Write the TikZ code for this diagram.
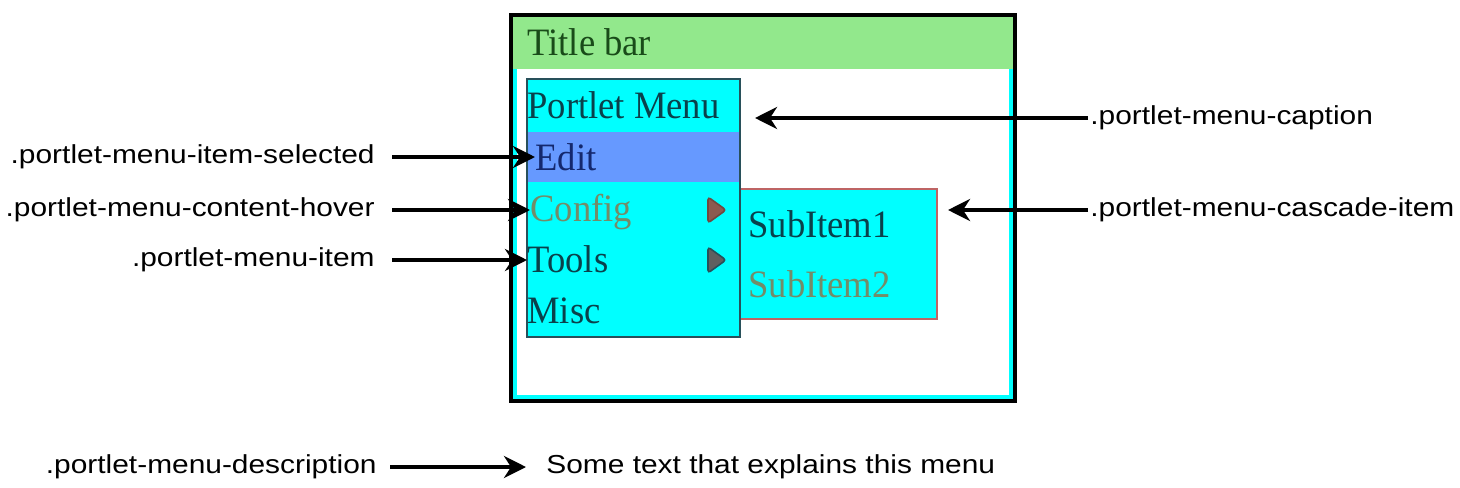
\documentclass[tikz,border=0pt]{standalone}
\usepackage{fontspec}
\usepackage{graphicx}
\setmainfont{Liberation Serif}
\newfontfamily\labfont{Liberation Sans}
\usetikzlibrary{arrows.meta}
\definecolor{titlegreen}{RGB}{146,232,140}
\definecolor{menucyan}{RGB}{0,255,255}
\definecolor{editblue}{RGB}{102,153,255}
\definecolor{menuborder}{RGB}{40,80,90}
\definecolor{subborder}{RGB}{190,100,100}
\definecolor{titletext}{RGB}{25,75,25}
\definecolor{tealtext}{RGB}{10,65,75}
\definecolor{edittext}{RGB}{20,40,110}
\definecolor{hovertext}{RGB}{115,140,105}
\definecolor{tribrown}{RGB}{140,90,80}
\definecolor{trigray}{RGB}{95,95,95}
\newcommand\hstretch[1]{\scalebox{1.15}[1]{#1}}
\newcommand\vstretch[1]{\scalebox{1}[1.06]{#1}}
\begin{document}
\begin{tikzpicture}[x=0.5pt,y=-0.5pt,
  lab/.style={inner sep=0pt, font=\labfont\fontsize{13pt}{15pt}\selectfont},
  mtext/.style={inner sep=0pt, font=\fontsize{18.3pt}{21pt}\selectfont, anchor=base west},
  arr/.style={line width=2.1pt, -{Stealth[length=11pt,width=11pt,inset=3.5pt]}},
  tri/.style={rounded corners=1.5pt, line width=0.8pt}]
\useasboundingbox (0,0) rectangle (1460,487);
\fill[white] (0,0) rectangle (1460,487);
% outer portlet frame
\fill[menucyan] (513,17) rectangle (1013,399);
\fill[white] (517,69) rectangle (1009,395);
\fill[titlegreen] (513,17) rectangle (1013,69);
\draw[line width=2pt] (511,15) rectangle (1015,401);
\node[mtext, text=titletext] (title) at (527,55) {\vstretch{Title bar}};
% submenu
\draw[fill=menucyan, draw=subborder, line width=0.8pt] (740,189) rectangle (937,319);
% menu
\fill[menucyan] (527,79) rectangle (740,337);
\fill[editblue] (527,132) rectangle (740,182);
\draw[menuborder, line width=1pt] (527,79) rectangle (740,337);
\node[mtext, text=tealtext] (caption) at (527,118) {\vstretch{Portlet Menu}};
\node[mtext, text=edittext] (edit) at (535,170) {\vstretch{Edit}};
\node[mtext, text=hovertext] (config) at (530,221) {\vstretch{Config}};
\node[mtext, text=tealtext] (tools) at (527,272) {\vstretch{Tools}};
\node[mtext, text=tealtext] (misc) at (527,323) {\vstretch{Misc}};
\node[mtext, text=tealtext] (sub1) at (748,237) {\vstretch{SubItem1}};
\node[mtext, text=hovertext] (sub2) at (748,297) {\vstretch{SubItem2}};
\draw[tri, fill=tribrown, draw=tribrown!80!black] (708,197) -- (708,223) -- (726,210) -- cycle;
\draw[tri, fill=trigray, draw=menuborder] (708,247) -- (708,273) -- (726,260) -- cycle;
\coordinate (captend) at (755,118);
\coordinate (cascend) at (948,210);
% left labels
\node[lab, anchor=east] (lsel) at (375,157) {\hstretch{.portlet-menu-item-selected}};
\node[lab, anchor=east] (lhov) at (375,210) {\hstretch{.portlet-menu-content-hover}};
\node[lab, anchor=east] (litem) at (375,260) {\hstretch{.portlet-menu-item}};
\draw[arr] ([xshift=8.5pt]lsel.east) -- (lsel.east -| edit.west);
\draw[arr] ([xshift=8.5pt]lhov.east) -- (lhov.east -| config.west);
\draw[arr] ([xshift=8.5pt]litem.east) -- (litem.east -| tools.west);
% right labels
\node[lab, anchor=west] (rcap) at (1090,118) {\hstretch{.portlet-menu-caption}};
\node[lab, anchor=west] (rcas) at (1090,210) {\hstretch{.portlet-menu-cascade-item}};
\draw[arr] ([xshift=-1pt]rcap.west) -- (captend);
\draw[arr] ([xshift=-1pt]rcas.west) -- (cascend);
% description
\node[lab, anchor=east] (ldesc) at (377,467) {\hstretch{.portlet-menu-description}};
\node[lab, anchor=west] (desc) at (546,467) {\hstretch{Some text that explains this menu}};
\draw[arr] ([xshift=6.5pt]ldesc.east) -- ([xshift=-10pt]desc.west);
\end{tikzpicture}
\end{document}
